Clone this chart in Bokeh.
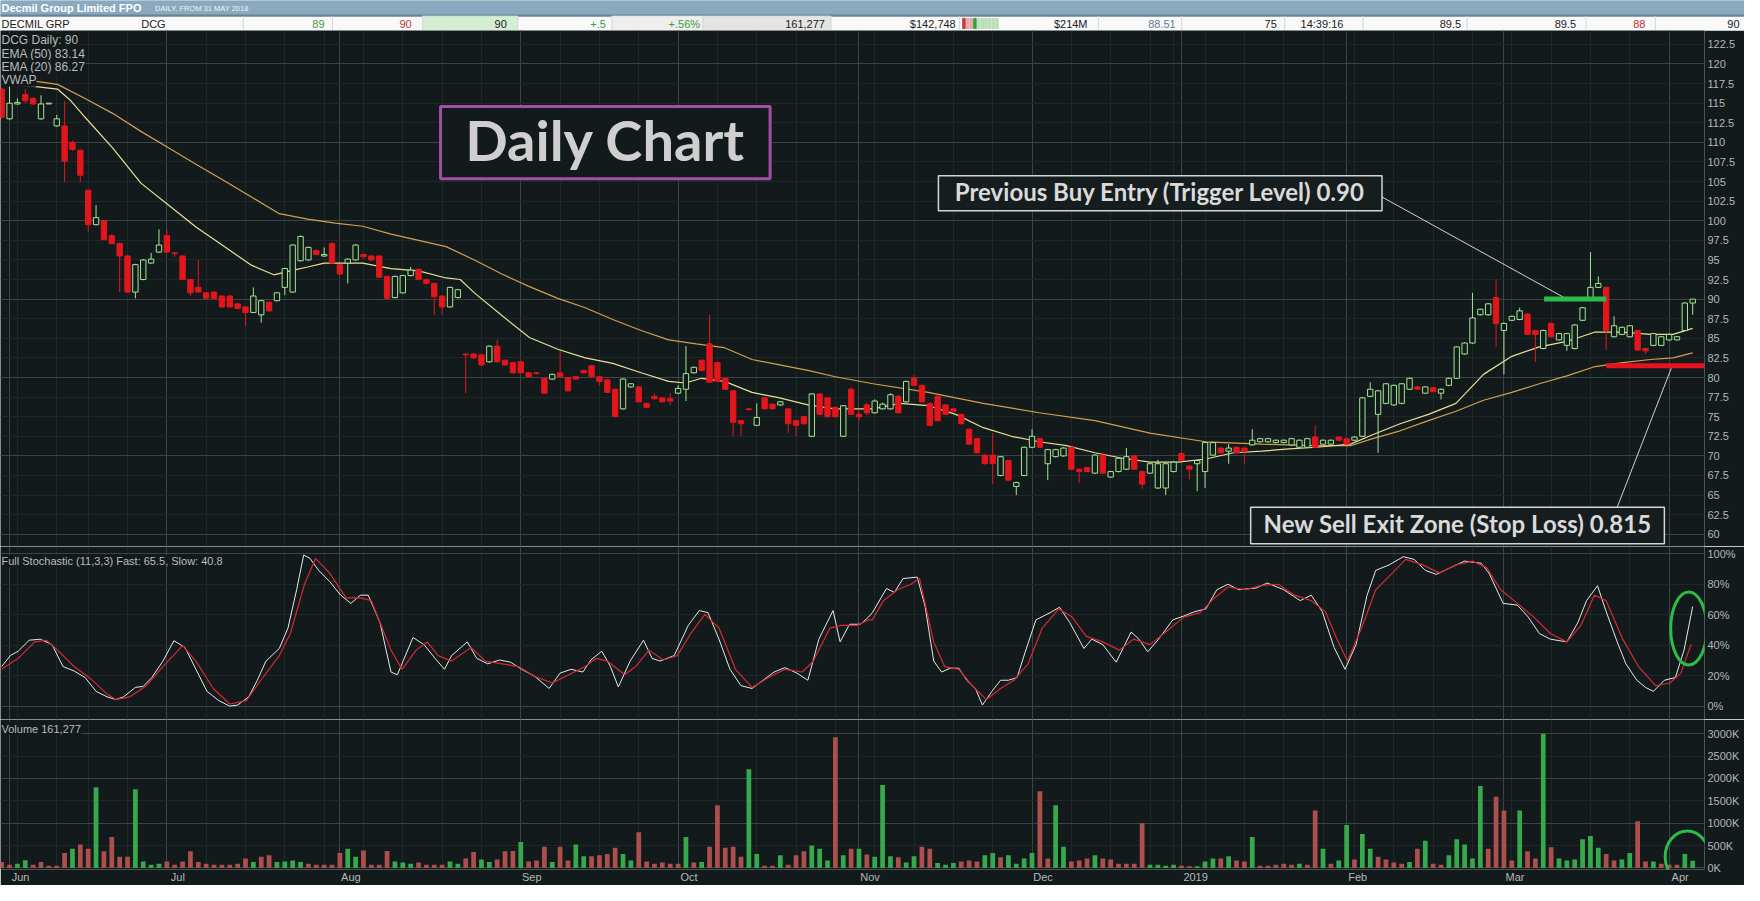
import pandas as pd
from bokeh.plotting import figure
from bokeh.layouts import column
from bokeh.models import Range1d, FixedTicker, Label, Grid, ColumnDataSource
from bokeh.core.properties import value
from bokeh.embed import file_html
from bokeh.resources import INLINE

# ---------------- data ----------------
HOLIDAYS = ["2018-06-11", "2018-12-25", "2018-12-26", "2019-01-01", "2019-01-28"]
trading_days = [d for d in pd.bdate_range("2018-05-31", "2019-04-04")
                if d.strftime("%Y-%m-%d") not in HOLIDAYS]
MONTH_LABELS = ["Jun", "Jul", "Aug", "Sep", "Oct", "Nov", "Dec", "2019", "Feb", "Mar", "Apr"]

OPEN = [116.8, 113.0, 114.9, 116.1, 115.6, 113.0, 114.9, 112.1, 112.1, 110.0,
        109.0, 103.9, 99.5, 100.0, 98.1, 97.1, 95.5, 90.9, 92.5, 94.6,
        96.0, 98.1, 95.9, 95.5, 92.5, 91.5, 90.8, 90.9, 90.4, 90.4,
        89.4, 89.0, 88.3, 88.0, 89.6, 89.8, 91.5, 90.9, 94.9, 95.0,
        96.2, 95.5, 97.1, 94.4, 94.6, 95.0, 95.7, 95.5, 95.5, 92.9,
        90.2, 90.8, 93.0, 93.8, 92.5, 92.0, 90.4, 89.0, 90.2, 83.0,
        83.0, 82.9, 82.0, 84.0, 82.2, 81.9, 82.0, 80.6, 80.6, 79.9,
        79.8, 80.6, 80.0, 80.1, 80.9, 81.5, 80.1, 79.7, 78.5, 76.0,
        78.8, 78.8, 76.7, 77.6, 77.4, 77.3, 78.0, 78.5, 80.6, 82.2,
        84.3, 81.9, 79.9, 78.3, 74.5, 76.0, 73.9, 77.4, 76.6, 76.5,
        76.0, 74.5, 75.0, 72.5, 77.9, 77.4, 76.2, 72.5, 78.5, 75.3,
        76.5, 75.5, 76.0, 76.0, 77.6, 76.9, 79.9, 79.0, 76.7, 77.6,
        76.5, 76.0, 75.3, 73.4, 72.2, 70.1, 70.1, 67.5, 69.4, 66.1,
        67.5, 71.1, 72.2, 69.0, 69.9, 70.0, 71.1, 68.3, 68.5, 67.8,
        70.1, 67.3, 68.0, 68.3, 70.0, 68.0, 67.8, 65.9, 65.9, 68.0,
        70.3, 68.7, 69.0, 68.0, 70.1, 71.0, 70.6, 71.1, 71.0, 71.4,
        71.8, 71.8, 71.7, 71.7, 71.4, 71.1, 71.1, 72.4, 71.5, 71.5,
        72.4, 72.2, 72.0, 72.5, 77.6, 75.3, 76.7, 76.5, 76.7, 78.5,
        78.8, 78.0, 78.7, 78.0, 79.0, 79.9, 83.0, 84.4, 88.0, 88.0,
        90.2, 86.0, 87.3, 87.4, 88.1, 86.0, 83.7, 86.9, 84.8, 84.1,
        83.7, 87.3, 90.2, 91.5, 91.5, 85.2, 85.5, 85.2, 86.0, 83.7,
        84.1, 84.1, 84.8, 84.8, 86.0, 89.5]
HIGH = [117.0, 117.2, 115.6, 116.8, 115.8, 116.0, 115.0, 113.5, 115.3, 110.2,
        109.1, 104.0, 102.0, 100.1, 98.3, 97.2, 95.6, 94.5, 95.1, 95.9,
        98.9, 98.9, 96.0, 95.6, 92.6, 95.0, 90.9, 91.0, 90.5, 90.5,
        89.5, 89.1, 91.5, 89.9, 89.7, 90.9, 94.0, 97.0, 98.1, 96.7,
        96.3, 96.6, 97.2, 94.5, 95.2, 97.0, 95.8, 95.6, 95.6, 93.0,
        93.0, 93.1, 94.1, 93.9, 92.6, 92.1, 90.5, 91.6, 91.3, 83.0,
        83.1, 83.0, 84.1, 84.8, 82.3, 82.0, 82.1, 80.7, 80.7, 80.0,
        80.5, 83.4, 80.1, 80.2, 81.0, 81.6, 80.2, 79.8, 78.6, 79.9,
        79.3, 78.9, 76.8, 78.0, 77.5, 78.0, 79.0, 84.0, 81.4, 82.3,
        88.0, 82.0, 80.0, 78.4, 74.6, 76.1, 76.7, 77.5, 76.7, 77.0,
        76.1, 74.6, 75.1, 78.0, 78.0, 77.5, 76.3, 76.5, 78.8, 76.0,
        76.8, 77.2, 76.8, 78.0, 77.8, 79.6, 80.3, 79.1, 76.8, 77.7,
        76.6, 76.1, 75.4, 73.5, 72.3, 70.2, 72.9, 70.0, 69.5, 66.7,
        71.2, 73.4, 72.3, 70.9, 70.9, 71.1, 71.2, 68.4, 68.6, 70.2,
        70.2, 68.1, 69.8, 71.0, 70.1, 68.1, 69.1, 69.5, 69.1, 69.3,
        70.4, 68.8, 69.5, 71.8, 71.8, 71.1, 71.5, 71.2, 71.1, 73.4,
        72.3, 72.3, 72.1, 72.1, 72.3, 72.1, 72.3, 73.9, 72.1, 72.1,
        72.5, 72.3, 72.5, 77.5, 79.4, 78.4, 79.3, 79.1, 79.3, 80.0,
        78.9, 78.9, 78.8, 78.6, 80.0, 84.0, 84.5, 90.8, 88.8, 89.5,
        92.5, 87.0, 87.9, 88.9, 88.2, 86.1, 86.1, 87.0, 85.7, 85.7,
        86.8, 89.0, 96.0, 92.9, 91.6, 87.8, 86.5, 86.7, 86.1, 83.8,
        85.7, 85.3, 85.6, 85.3, 89.6, 90.0]
LOW = [113.0, 112.9, 114.8, 115.0, 114.8, 112.9, 114.9, 112.0, 104.9, 108.9,
       104.9, 98.6, 99.4, 97.5, 97.0, 90.9, 90.8, 90.1, 92.4, 94.5,
       95.9, 95.9, 95.4, 92.4, 90.4, 90.8, 90.0, 90.0, 88.9, 88.9,
       88.7, 86.6, 88.2, 87.0, 88.4, 89.7, 90.5, 90.8, 94.8, 94.9,
       95.6, 95.4, 94.5, 93.1, 92.0, 94.9, 95.2, 94.9, 92.7, 90.0,
       90.1, 90.7, 92.9, 92.4, 91.9, 88.0, 88.0, 88.9, 90.1, 78.0,
       82.4, 81.5, 81.9, 81.9, 81.5, 80.5, 80.5, 80.0, 80.4, 77.9,
       79.7, 80.0, 78.2, 79.7, 80.5, 80.0, 79.0, 78.0, 74.9, 75.9,
       78.7, 76.8, 76.1, 77.2, 76.8, 76.5, 77.9, 77.0, 80.5, 80.8,
       79.3, 79.4, 78.4, 72.5, 72.5, 75.8, 73.8, 75.9, 75.9, 76.4,
       72.9, 72.5, 74.0, 72.4, 75.2, 74.9, 74.9, 72.4, 75.2, 74.5,
       75.2, 75.4, 75.9, 75.9, 75.4, 76.8, 78.9, 76.8, 73.8, 74.4,
       75.2, 75.6, 74.0, 71.4, 70.3, 68.9, 66.4, 67.4, 66.8, 65.0,
       67.4, 71.0, 71.0, 66.9, 69.8, 69.9, 68.2, 66.5, 67.9, 67.7,
       67.7, 67.2, 67.9, 68.2, 68.2, 65.8, 67.7, 65.8, 65.0, 67.9,
       69.3, 67.0, 65.5, 65.9, 70.0, 70.3, 69.0, 70.3, 69.0, 71.3,
       71.7, 71.7, 71.6, 71.6, 71.3, 71.0, 71.0, 71.0, 71.4, 71.4,
       71.9, 71.4, 71.9, 72.4, 77.5, 70.4, 76.6, 76.4, 76.6, 78.4,
       78.4, 77.9, 78.1, 77.2, 78.9, 79.8, 82.9, 84.3, 87.9, 87.9,
       83.9, 80.4, 87.2, 87.3, 85.4, 82.0, 83.6, 85.1, 84.7, 83.4,
       83.6, 87.2, 90.1, 91.4, 83.5, 85.1, 85.4, 85.1, 83.4, 83.0,
       84.0, 84.0, 84.7, 84.7, 85.9, 88.0]
CLOSE = [113.2, 115.0, 115.1, 115.3, 114.9, 114.9, 115.0, 113.0, 107.6, 109.1,
         105.8, 99.5, 100.4, 97.6, 97.1, 95.5, 90.9, 94.4, 95.0, 95.1,
         96.9, 96.0, 95.8, 92.5, 90.8, 90.9, 90.1, 90.1, 89.0, 89.0,
         88.8, 88.3, 90.4, 89.8, 88.5, 90.8, 93.9, 96.9, 98.0, 96.6,
         95.7, 95.7, 94.6, 93.2, 95.1, 96.9, 95.4, 95.0, 92.8, 90.1,
         92.9, 93.0, 93.7, 92.5, 92.0, 90.3, 89.0, 91.5, 91.2, 82.9,
         82.5, 81.6, 84.0, 82.0, 81.6, 80.6, 80.6, 80.1, 80.5, 78.0,
         80.4, 80.1, 78.3, 79.8, 80.6, 80.1, 79.5, 78.1, 75.0, 79.8,
         79.2, 76.9, 76.2, 77.3, 76.9, 77.0, 78.6, 80.5, 81.3, 80.9,
         79.4, 79.5, 78.5, 74.3, 74.1, 75.9, 74.9, 76.0, 76.0, 76.9,
         74.1, 73.9, 74.1, 77.9, 75.3, 75.0, 75.0, 76.4, 75.3, 75.0,
         75.5, 77.0, 76.6, 77.8, 75.5, 79.5, 79.0, 76.9, 73.9, 74.5,
         75.3, 75.7, 74.1, 71.5, 70.4, 69.0, 69.0, 69.9, 66.9, 66.6,
         71.1, 72.5, 71.1, 70.8, 70.8, 71.0, 68.3, 68.0, 68.0, 70.1,
         67.8, 68.0, 69.7, 69.9, 68.3, 66.4, 69.0, 69.0, 69.0, 69.2,
         69.4, 68.3, 69.4, 71.7, 71.7, 70.4, 71.0, 70.4, 70.6, 72.0,
         72.2, 72.2, 72.0, 72.0, 72.2, 72.0, 72.2, 71.1, 72.0, 72.0,
         72.0, 71.5, 72.4, 77.4, 78.5, 78.3, 79.2, 79.0, 79.2, 79.9,
         78.5, 78.8, 78.2, 78.5, 79.9, 83.9, 84.4, 87.6, 88.7, 89.4,
         86.9, 86.9, 87.8, 88.5, 85.5, 85.5, 86.0, 85.2, 85.6, 85.6,
         86.7, 88.9, 91.5, 92.0, 86.0, 86.6, 86.4, 86.6, 83.5, 83.4,
         85.6, 85.2, 85.5, 85.2, 89.5, 90.0]

VOLUME_K = [130, 70, 95, 170, 70, 130, 50, 50, 330, 430,
            520, 430, 1800, 370, 690, 250, 250, 1755, 140, 70,
            95, 140, 70, 140, 370, 130, 95, 70, 70, 70,
            95, 210, 130, 250, 285, 130, 140, 165, 130, 95,
            70, 70, 70, 330, 430, 250, 390, 70, 70, 380,
            140, 120, 95, 120, 70, 70, 70, 140, 95, 210,
            355, 190, 130, 190, 370, 380, 580, 140, 165, 475,
            130, 475, 165, 520, 260, 260, 285, 310, 450, 310,
            165, 795, 140, 95, 120, 95, 95, 690, 120, 130,
            475, 1400, 450, 475, 250, 2205, 310, 50, 50, 285,
            70, 285, 370, 500, 430, 165, 2920, 285, 430, 430,
            300, 250,
            1850, 260, 240, 120, 260, 475, 430, 107, 70, 107,
            140, 165, 140, 285, 330, 240, 285, 95, 210, 330,
            1710, 210, 1400, 475, 140, 165, 210, 285, 210, 190,
            95, 95, 95, 1000, 70, 70, 50, 70, 50, 35,
            35, 140, 210, 210, 260, 165, 140, 690, 50, 50,
            70, 95, 70, 95, 70, 1280, 430, 95, 165, 960,
            190, 760, 430, 250, 190, 120, 95, 130, 430, 605,
            95, 70, 285, 640, 520, 210, 1830, 430, 1590, 1280,
            165, 1280, 370, 210, 3000, 460, 210, 165, 190, 640,
            710, 450, 310, 165, 190, 330, 1045, 140, 140, 95,
            70, 70, 310, 161]
VOLUME_DIR = list(
    "rrggrrrrrg" "rrgrrrrggg" "grrrrrrrrr" "rrgrrggggr" "rrrrggrrrr"
    "gggrrrrggr" "rggrrrgrrr" "grrggrrrrg" "grrrrrrgrg" "rrrrrggrrg"
    "rrrgggrgrg" "rg"
    "ggrggrrggg" "rrrggrgggg" "rrggrrrgrr" "rrrrggggrr" "gggrgrrgrr"
    "rrrgrrgrgg" "rggrrrrgrg" "rrgggggrrr" "rgrrgrgggg" "ggrrggrrgr" "rrgg")

EMA50_X = [0, 3.5, 7.1, 10.6, 14.1, 17.7, 21.2, 24.7, 28.3, 31.8, 35.3, 38.9, 42.4, 45.9,
           49.5, 53.0, 56.5, 60.1, 63.6, 67.1, 70.7, 74.2, 77.7, 81.3, 84.8, 88.3, 91.9,
           95.4, 98.9, 102.5, 106.0, 110.8, 117.8, 124.8, 131.9, 139.0, 146.0, 153.1,
           160.2, 167.2, 171.5, 174.3, 177.8, 181.4, 184.9, 188.4, 192.0, 195.5, 199.0,
           202.6, 206.1, 209.6, 212.5, 215.0]
EMA50_Y = [118.1, 117.9, 117.4, 115.6, 113.7, 111.4, 109.3, 107.2, 105.1, 103.0, 100.9,
           100.2, 99.7, 99.3, 98.3, 97.5, 96.7, 95.0, 93.2, 91.6, 90.1, 88.9, 87.4, 86.0,
           84.8, 84.3, 83.8, 82.3, 81.6, 80.9, 80.1, 79.2, 78.1, 76.7, 75.5, 74.5, 72.9,
           71.8, 71.5, 71.3, 71.3, 72.2, 73.2, 74.5, 75.7, 77.1, 78.1, 79.2, 80.2, 81.4,
           81.9, 82.3, 82.5, 83.14]
EMA20_X = [0, 3.5, 7.1, 8.8, 10.6, 14.1, 17.7, 21.2, 24.7, 28.3, 31.8, 34.6, 36.7, 38.9,
           41.0, 45.9, 49.5, 53.0, 56.5, 58.3, 60.1, 63.6, 67.1, 70.7, 74.2, 77.7, 81.3,
           84.8, 86.9, 89.0, 91.9, 95.4, 98.9, 102.5, 106.0, 110.8, 114.2, 117.8, 121.3,
           124.8, 128.4, 131.9, 135.4, 139.0, 142.5, 146.0, 149.6, 153.1, 156.6, 160.2,
           163.7, 167.2, 171.5, 174.3, 177.8, 181.4, 184.9, 188.4, 192.0, 195.5, 199.0,
           202.6, 206.1, 209.6, 212.5, 215.0]
EMA20_Y = [117.4, 117.2, 116.8, 115.3, 113.2, 109.3, 104.8, 102.0, 99.2, 96.7, 94.3, 93.1,
           93.6, 94.1, 94.6, 94.6, 93.9, 93.6, 92.7, 92.5, 90.8, 87.9, 85.1, 83.6, 82.5,
           81.8, 80.6, 79.5, 79.3, 79.9, 79.5, 78.1, 77.4, 76.5, 76.0, 76.0, 76.7, 76.4,
           75.3, 73.6, 72.5, 71.8, 71.3, 70.4, 69.7, 69.2, 69.2, 69.6, 70.4, 70.6, 70.9,
           71.1, 71.5, 72.7, 74.1, 75.3, 76.7, 80.4, 82.7, 83.9, 84.6, 85.8, 85.8, 85.5,
           85.5, 86.27]

FAST_X = [0.0, 1.1, 2.1, 3.5, 4.9, 6.4, 7.8, 9.2, 10.6, 12.0, 13.4, 14.5, 15.5, 17.0, 18.0,
          19.1, 20.5, 21.9, 23.3, 24.7, 26.1, 27.6, 29.0, 30.0, 31.4, 32.5, 33.6, 35.3, 36.4,
          37.5, 38.4, 39.2, 40.3, 41.7, 43.1, 44.4, 45.6, 46.6, 48.1, 49.5, 50.3, 52.3, 53.7,
          55.1, 56.3, 57.2, 59.2, 60.4, 61.8, 63.3, 64.7, 66.1, 67.8, 69.6, 71.0, 72.4, 73.9,
          74.9, 76.3, 77.4, 78.4, 79.9, 81.6, 82.7, 83.7, 85.5, 87.3, 88.7, 89.8, 91.2, 92.6,
          94.0, 95.4, 96.8, 98.2, 99.6, 101.1, 102.5, 103.9, 105.7, 106.6, 107.8, 109.2, 110.2,
          110.7, 112.5, 113.5, 114.6, 116.4, 117.4, 118.5, 119.5, 120.6, 121.7, 122.7, 123.8,
          124.7, 125.9, 127.0, 128.0, 129.1, 130.1, 131.5, 133.3, 134.5, 135.8, 137.6, 138.6,
          140.0, 141.7, 143.6, 144.6, 145.7, 147.1, 148.9, 150.3, 151.7, 153.1, 154.5, 155.9,
          157.3, 159.5, 160.9, 163.0, 165.1, 166.5, 167.9, 169.4, 170.8, 172.2, 173.6, 174.7,
          176.4, 178.2, 179.6, 181.0, 182.4, 184.2, 186.0, 188.1, 189.1, 190.9, 192.7, 194.1,
          195.5, 196.9, 199.0, 200.4, 201.5, 202.9, 204.0, 205.4, 206.5, 207.9, 209.0, 210.0,
          211.4, 212.8, 213.9, 215.0]
FAST_Y = [26.0, 33.2, 36.1, 43.3, 44.0, 40.4, 26.0, 23.1, 18.8, 9.7, 6.1, 4.3, 6.1, 12.3, 13.0,
          18.8, 29.6, 43.0, 38.6, 24.2, 9.7, 3.6, 0.0, 0.7, 6.1, 17.0, 29.6, 37.9, 51.3, 76.5,
          99.3, 97.1, 89.2, 81.9, 72.9, 67.5, 72.9, 72.9, 54.9, 22.4, 20.6, 45.1, 40.4, 31.4,
          24.2, 33.2, 42.2, 31.4, 27.8, 30.3, 28.9, 24.2, 19.5, 11.6, 21.7, 24.2, 22.4, 30.3,
          36.1, 26.0, 12.6, 29.6, 43.3, 31.4, 29.6, 33.2, 53.1, 62.8, 61.4, 44.0, 24.2, 13.4,
          11.6, 17.0, 22.4, 25.3, 21.7, 17.0, 44.0, 62.8, 42.2, 53.8, 53.8, 58.5,
          61.4, 77.3, 74.7, 83.8, 84.8, 65.7, 29.6, 22.4, 24.9, 24.9, 17.0, 11.6, 0.7, 9.7,
          17.0, 17.0, 18.8, 35.0, 56.7, 61.4, 65.0, 54.9, 37.9, 44.0, 40.4, 28.9, 48.7, 44.0,
          35.7, 44.0, 56.7, 59.2, 62.1, 63.9, 76.5, 80.1, 76.5, 77.6, 80.9, 76.5, 69.3, 72.9,
          62.1, 38.6, 24.2, 40.4, 72.9, 89.2, 92.8, 98.2, 96.4, 89.2, 86.6, 91.0, 95.3, 93.9,
          87.4, 67.5, 66.4, 58.5, 47.7, 44.0, 42.2, 54.9, 69.3, 79.1, 62.1, 42.2, 27.8, 17.0,
          12.3, 9.7, 17.0, 18.8, 36.8, 65.5]
SLOW_X = [0.0, 2.1, 4.2, 5.7, 7.1, 9.2, 11.3, 13.4, 14.5, 16.3, 18.4, 20.5, 23.0, 24.7, 26.9,
          29.0, 31.1, 33.2, 35.3, 36.7, 38.5, 39.9, 41.7, 43.8, 45.6, 47.0, 49.5, 50.9, 52.7,
          54.1, 55.5, 57.2, 59.7, 61.5, 63.6, 65.7, 67.8, 70.0, 72.1, 74.2, 75.6, 77.0, 79.2,
          80.6, 82.3, 84.1, 85.9, 87.6, 89.4, 91.2, 93.3, 95.4, 97.5, 99.6, 101.8, 103.2,
          105.3, 106.7, 108.8, 110.2,
          110.7, 112.1, 113.9, 115.6, 116.7, 118.5, 119.9, 121.7, 123.4, 125.2, 127.0, 128.7,
          130.5, 132.3, 134.4, 136.1, 137.9, 140.0, 142.1, 143.9, 146.0, 148.2, 150.3, 152.4,
          154.2, 155.9, 158.1, 160.2, 162.3, 164.4, 166.5, 168.3, 169.7, 171.1, 172.9, 174.7,
          176.8, 178.5, 180.7, 182.8, 184.9, 187.0, 188.8, 190.6, 192.7, 194.8, 196.9, 199.0,
          200.8, 202.5, 204.0, 206.1, 208.1, 210.3, 212.1, 213.5, 214.8]
SLOW_Y = [24.2, 31.4, 42.2, 43.3, 36.8, 26.0, 18.1, 7.9, 4.3, 6.1, 13.4, 26.0, 39.7, 29.6, 11.6,
          1.4, 3.6, 18.8, 33.2, 47.7, 80.1, 97.1, 87.4, 71.1, 71.1, 69.3, 36.8, 24.2, 36.8,
          42.2, 33.2, 29.6, 38.6, 29.6, 27.8, 26.0, 19.5, 15.2, 20.6, 26.0, 31.4, 29.6, 20.6,
          26.0, 36.8, 30.3, 33.2, 47.7, 60.3, 51.3, 24.2, 12.3, 18.8, 24.2, 22.4, 29.6, 51.3,
          53.1, 53.1, 56.7,
          56.7, 69.3, 76.5, 80.1, 83.8, 42.2, 26.0, 24.2, 13.4, 4.3, 11.6, 17.0, 27.8, 51.3,
          63.9, 58.5, 45.8, 42.2, 36.8, 44.0, 40.4, 49.5, 58.5, 61.4, 71.1, 78.3, 76.5, 79.4,
          80.1, 72.9, 69.3, 62.1, 44.9, 29.6, 51.3, 76.5, 87.4, 96.4, 92.8, 87.4, 92.8, 95.3,
          91.0, 76.5, 67.5, 58.5, 47.7, 42.2, 53.1, 72.9, 69.3, 44.0, 26.0, 13.4, 15.2, 21.7,
          40.8]

PRICE_TICKS = [60, 62.5, 65, 67.5, 70, 72.5, 75, 77.5, 80, 82.5, 85, 87.5, 90, 92.5, 95,
               97.5, 100, 102.5, 105, 107.5, 110, 112.5, 115, 117.5, 120, 122.5]
PRICE_LABELS = ["60", "62.5", "65", "67.5", "70", "72.5", "75", "77.5", "80", "82.5", "85",
                "87.5", "90", "92.5", "95", "97.5", "100", "102.5", "105", "107.5", "110",
                "112.5", "115", "117.5", "120", "122.5"]
STOCH_TICKS = [0, 20, 40, 60, 80, 100]
STOCH_LABELS = ["0%", "20%", "40%", "60%", "80%", "100%"]
VOL_TICKS = [0, 500, 1000, 1500, 2000, 2500, 3000]
VOL_LABELS = ["0K", "500K", "1000K", "1500K", "2000K", "2500K", "3000K"]

# annotations (data coordinates: trading-day index, price)
BUY_LEVEL = 90.0
BUY_SPAN = [196.1, 204.0]
STOP_LEVEL = 81.5
STOP_SPAN = [204.0, 216.5]
BUY_BOX = dict(left=119.1, right=175.5, bottom=101.27, top=105.75)
BUY_TEXT = "Previous Buy Entry (Trigger Level) 0.90"
BUY_TEXT_POS = (147.3, 103.75)
BUY_POINTER = ([175.5, 199.0], [103.03, 90.0])
SELL_BOX = dict(left=158.8, right=211.4, bottom=58.8, top=63.45)
SELL_TEXT = "New Sell Exit Zone (Stop Loss) 0.815"
SELL_TEXT_POS = (185.1, 61.35)
SELL_POINTER = ([205.4, 212.4], [63.45, 81.5])
TITLE_BOX = dict(left=55.8, right=97.7, bottom=105.35, top=114.56)
TITLE_TEXT = "Daily Chart"
TITLE_TEXT_POS = (76.75, 110.4)
STOCH_RING = dict(x=214.5, y=51.0, w=4.6, h=48.0)
VOL_RING = dict(x=214.3, y=250.0, w=5.6, h=1150.0)

# ---------------- style ----------------
BG = "#131a1c"
GRID_MINOR = "#1f2729"
GRID_MAJOR = "#3b4547"
AX_TXT = "#b4b8b8"
UP = "#a3e592"
DOWN = "#e3161c"
EMA50_C = "#d29f4e"
EMA20_C = "#e8df98"
FAST_C = "#e8e8e8"
SLOW_C = "#d42a34"
VOL_UP = "#35a94b"
VOL_DN = "#ad4f4c"
MARK_G = "#2dbb4c"
MARK_R = "#e8121e"
AX_FONT = "Liberation Sans"

W = 1744
AXW = 40
PX_PER_DAY = 7.87
idx = list(range(len(trading_days)))

month_ticks, week_ticks = [], []
for i in range(1, len(trading_days)):
    if trading_days[i].month != trading_days[i - 1].month:
        month_ticks.append(i)
    if trading_days[i].weekday() < trading_days[i - 1].weekday():
        week_ticks.append(i)
# month labels sit just right of their grid line (label centre shifted by half its width)
label_ticks = [round(t + (len(l) * 6.0 / 2 + 2) / PX_PER_DAY, 1)
               for t, l in zip(month_ticks, MONTH_LABELS)]

xr = Range1d(-0.15, 216.5)


def panel(height, y0, y1, xaxis=False, bottom=0):
    p = figure(width=W, height=height, x_range=xr, y_range=Range1d(y0, y1),
               toolbar_location=None, output_backend="svg",
               x_axis_location="below" if xaxis else None, y_axis_location="right",
               min_border_left=0, min_border_right=AXW, min_border_top=0,
               min_border_bottom=bottom, background_fill_color=BG,
               border_fill_color=BG, outline_line_color=None)
    p.grid.visible = False
    p.add_layout(Grid(dimension=0, ticker=FixedTicker(ticks=month_ticks, minor_ticks=week_ticks),
                      grid_line_color=GRID_MAJOR, minor_grid_line_color=GRID_MINOR))
    return p


def style_axis(ax):
    ax.axis_line_color = None
    ax.major_tick_line_color = None
    ax.minor_tick_line_color = None
    ax.major_tick_out = 0
    ax.minor_tick_out = 0
    ax.major_tick_in = 0
    ax.minor_tick_in = 0
    ax.major_label_text_color = AX_TXT
    ax.major_label_text_font = AX_FONT
    ax.major_label_text_font_size = "11px"


def style_y(p, ticks, labels, major, minor):
    ax = p.yaxis[0]
    ax.ticker = FixedTicker(ticks=ticks)
    ax.major_label_overrides = {t: l for t, l in zip(ticks, labels)}
    style_axis(ax)
    ax.major_label_standoff = 3
    p.add_layout(Grid(dimension=1, ticker=FixedTicker(ticks=major, minor_ticks=minor),
                      grid_line_color=GRID_MAJOR, minor_grid_line_color=GRID_MINOR))


# ---------------- header ----------------
h = figure(width=W, height=30, x_range=Range1d(0, 1760), y_range=Range1d(31, 0),
           toolbar_location=None, output_backend="svg", x_axis_location=None,
           y_axis_location=None, min_border=0, outline_line_color=None,
           background_fill_color="#f9f9f9", border_fill_color="#f9f9f9")
try:
    h.frame_align = False
except Exception:
    pass
h.grid.visible = False
h.quad(left=[0], right=[1760], top=[0], bottom=[15], color="#8aa9bf")
h.quad(left=[0], right=[1760], top=[15], bottom=[16.2], color="#6b8495")
h.quad(left=[426, 617, 709], right=[522, 709, 838], top=[16.2] * 3, bottom=[31] * 3,
       color=["#d3eed3", "#eeeeee", "#e4e4e4"])
SEPS = [245, 335, 426, 522, 617, 709, 838, 968, 1108, 1192, 1296, 1375, 1480, 1600, 1670]
h.segment(x0=SEPS, y0=[16.2] * len(SEPS), x1=SEPS, y1=[31] * len(SEPS), color="#d6d6d6")
h.text(x=[1], y=[8], text=["Decmil Group Limited FPO"], text_font=value(AX_FONT),
       text_font_style="bold", text_font_size="11px", text_color="white",
       text_baseline="middle")
h.text(x=[156], y=[8.5], text=["DAILY, FROM 31 MAY 2018"], text_font=value(AX_FONT),
       text_font_size="7.5px", text_color="#f4f6f8", text_baseline="middle")
HDR_L = dict(x=[1, 142, 1312], text=["DECMIL GRP", "DCG", "14:39:16"],
             color=["#202020", "#202020", "#202020"])
HDR_R = dict(x=[327, 415, 511, 611, 706, 832, 964, 1097, 1186, 1288, 1474, 1590, 1660, 1755],
             text=["89", "90", "90", "+.5", "+.56%", "161,277", "$142,748", "$214M", "88.51",
                   "75", "89.5", "89.5", "88", "90"],
             color=["#3f9a3f", "#b83434", "#202020", "#3f9a3f", "#3f9a3f", "#202020",
                    "#202020", "#202020", "#5b7d96", "#202020", "#202020", "#202020",
                    "#b83434", "#202020"])
h.text(x="x", y=23.8, text="text", text_color="color", source=ColumnDataSource(HDR_L),
       text_font=value(AX_FONT), text_font_size="11px", text_baseline="middle")
h.text(x="x", y=23.8, text="text", text_color="color", source=ColumnDataSource(HDR_R),
       text_font=value(AX_FONT), text_font_size="11px", text_baseline="middle",
       text_align="right")
ICON_X = [971, 974.7, 978.4, 982.1, 985.8, 989.5, 993.2, 996.9, 1000.6, 1004.3]
ICON_C = ["#c83c3c", "#e6a6a6", "#e6a6a6", "#3aa03a", "#b9e0b9", "#b9e0b9", "#b9e0b9",
          "#b9e0b9", "#b9e0b9", "#b9e0b9"]
h.quad(left=ICON_X, right=[v + 2.6 for v in ICON_X], top=[18.5] * 10, bottom=[29] * 10,
       color=ICON_C)

# ---------------- price panel ----------------
p = panel(516, 58.44, 124.27)
style_y(p, PRICE_TICKS, PRICE_LABELS, [60, 70, 80, 90, 100, 110, 120], PRICE_TICKS)

p.line(EMA50_X, EMA50_Y, color=EMA50_C, line_width=1.2)
p.line(EMA20_X, EMA20_Y, color=EMA20_C, line_width=1.2)

up = [i for i in idx if CLOSE[i] >= OPEN[i]]
dn = [i for i in idx if CLOSE[i] < OPEN[i]]
for sel, col, fill in ((up, UP, BG), (dn, DOWN, DOWN)):
    src = ColumnDataSource(dict(
        x=sel, hi=[HIGH[i] for i in sel], lo=[LOW[i] for i in sel],
        top=[max(OPEN[i], CLOSE[i]) for i in sel],
        bot=[min(OPEN[i], CLOSE[i]) for i in sel]))
    p.segment(x0="x", y0="lo", x1="x", y1="hi", source=src, color=col, line_width=1)
    p.vbar(x="x", width=0.68, top="top", bottom="bot", source=src, fill_color=fill,
           line_color=col, line_width=1)

# annotations
p.line(BUY_POINTER[0], BUY_POINTER[1], color="#d0d0d0", line_width=1)
p.line(SELL_POINTER[0], SELL_POINTER[1], color="#d0d0d0", line_width=1)
p.line(BUY_SPAN, [BUY_LEVEL, BUY_LEVEL], color=MARK_G, line_width=5)
p.line(STOP_SPAN, [STOP_LEVEL, STOP_LEVEL], color=MARK_R, line_width=5)
p.quad(left=[TITLE_BOX["left"]], right=[TITLE_BOX["right"]], top=[TITLE_BOX["top"]],
       bottom=[TITLE_BOX["bottom"]], fill_color=BG, line_color="#a24fa6", line_width=3)
p.text(x=[TITLE_TEXT_POS[0]], y=[TITLE_TEXT_POS[1]], text=[TITLE_TEXT],
       text_font=value("Lato"), text_font_style="bold", text_font_size="56px",
       text_color="#cfcfcf", text_align="center", text_baseline="middle")
for box, txt, pos in ((BUY_BOX, BUY_TEXT, BUY_TEXT_POS), (SELL_BOX, SELL_TEXT, SELL_TEXT_POS)):
    p.quad(left=[box["left"]], right=[box["right"]], top=[box["top"]],
           bottom=[box["bottom"]], fill_color="#161d1f", line_color="#d4d4d4",
           line_width=1.5)
    p.text(x=[pos[0]], y=[pos[1]], text=[txt], text_font=value("Lato"),
           text_font_style="bold", text_font_size="24px", text_color="#dadada",
           text_align="center", text_baseline="middle")

for ytxt, txt in ((123.0, "DCG Daily: 90"), (121.3, "EMA (50) 83.14"),
                  (119.6, "EMA (20) 86.27"), (118.0, "VWAP")):
    p.add_layout(Label(x=-0.15, y=ytxt, text=txt, x_offset=1, text_font=AX_FONT,
                       text_font_size="12px", text_color="#b8bcbc", text_baseline="middle",
                       background_fill_color=BG, background_fill_alpha=1.0))

# ---------------- stochastic panel ----------------
s = panel(173, -8.8, 104.9)
style_y(s, STOCH_TICKS, STOCH_LABELS, [0, 100], [20, 40, 60, 80])
s.line(FAST_X, FAST_Y, color=FAST_C, line_width=1)
s.line(SLOW_X, SLOW_Y, color=SLOW_C, line_width=1.2)
s.ellipse(x=[STOCH_RING["x"]], y=[STOCH_RING["y"]], width=[STOCH_RING["w"]],
          height=[STOCH_RING["h"]], fill_color=None, line_color=MARK_G, line_width=3)
s.add_layout(Label(x=-0.15, y=95.2, text="Full Stochastic (11,3,3) Fast: 65.5, Slow: 40.8",
                   x_offset=1, text_font=AX_FONT, text_font_size="11px",
                   text_color="#b8bcbc", text_baseline="middle",
                   background_fill_color=BG, background_fill_alpha=1.0))

# ---------------- volume panel ----------------
v = panel(166, -36, 3316, xaxis=True, bottom=14)
style_y(v, VOL_TICKS, VOL_LABELS, [0, 1000, 2000, 3000], [500, 1500, 2500])
v.vbar(x=idx, width=0.6, top=VOLUME_K, bottom=0,
       fill_color=[VOL_UP if c == "g" else VOL_DN for c in VOLUME_DIR], line_color=None)
v.ellipse(x=[VOL_RING["x"]], y=[VOL_RING["y"]], width=[VOL_RING["w"]],
          height=[VOL_RING["h"]], fill_color=None, line_color=MARK_G, line_width=3)
v.add_layout(Label(x=-0.15, y=3107, text="Volume 161,277", x_offset=1, text_font=AX_FONT,
                   text_font_size="11px", text_color="#b8bcbc", text_baseline="middle",
                   background_fill_color=BG, background_fill_alpha=1.0))
xa = v.xaxis[0]
xa.ticker = FixedTicker(ticks=label_ticks)
xa.major_label_overrides = {t: l for t, l in zip(label_ticks, MONTH_LABELS)}
style_axis(xa)
xa.major_label_standoff = 1

layout = column(h, p, s, v)
open("out.html", "w").write(file_html(layout, INLINE))
